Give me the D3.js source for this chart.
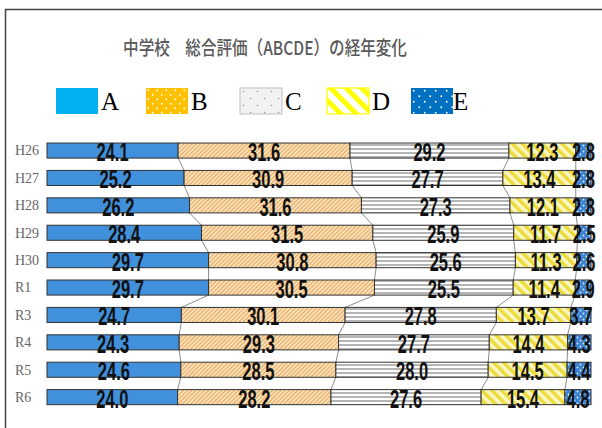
<!DOCTYPE html>
<html>
<head>
<meta charset="utf-8">
<script src="https://cdn.jsdelivr.net/npm/d3@7"></script>
<style>
  body { margin: 0; background: #fff; }
  svg { display: block; }
</style>
</head>
<body>
<div id="chart"></div>
<script>
'use strict';

var categories = ['H26', 'H27', 'H28', 'H29', 'H30', 'R1', 'R3', 'R4', 'R5', 'R6'];
var seriesNames = ['A', 'B', 'C', 'D', 'E'];
var valuesA = [24.1, 25.2, 26.2, 28.4, 29.7, 29.7, 24.7, 24.3, 24.6, 24.0];
var valuesB = [31.6, 30.9, 31.6, 31.5, 30.8, 30.5, 30.1, 29.3, 28.5, 28.2];
var valuesC = [29.2, 27.7, 27.3, 25.9, 25.6, 25.5, 27.8, 27.7, 28.0, 27.6];
var valuesD = [12.3, 13.4, 12.1, 11.7, 11.3, 11.4, 13.7, 14.4, 14.5, 15.4];
var valuesE = [2.8, 2.8, 2.8, 2.5, 2.6, 2.9, 3.7, 4.3, 4.4, 4.8];
var title = '中学校\u3000総合評価（ABCDE）の経年変化';

var width = 602, height = 428;

var rows = categories.map(function(c, i) {
  return { cat: c, A: valuesA[i], B: valuesB[i], C: valuesC[i], D: valuesD[i], E: valuesE[i] };
});
var stacked = d3.stack().keys(seriesNames)(rows);

var svg = d3.select('#chart').append('svg')
  .attr('width', width)
  .attr('height', height);

var defs = svg.append('defs');

// bar fills
function stripes(id, size, angle, bg, fg, lw) {
  var p = defs.append('pattern').attr('id', id)
    .attr('patternUnits', 'userSpaceOnUse')
    .attr('width', size).attr('height', size)
    .attr('patternTransform', 'rotate(' + angle + ')');
  p.append('rect').attr('width', size).attr('height', size).attr('fill', bg);
  p.append('rect').attr('width', lw).attr('height', size).attr('fill', fg);
}
function dots(id, size, bg, fg, r) {
  var p = defs.append('pattern').attr('id', id)
    .attr('patternUnits', 'userSpaceOnUse')
    .attr('width', size).attr('height', size);
  p.append('rect').attr('width', size).attr('height', size).attr('fill', bg);
  p.append('circle').attr('cx', size / 4).attr('cy', size / 4).attr('r', r).attr('fill', fg);
  p.append('circle').attr('cx', size * 3 / 4).attr('cy', size * 3 / 4).attr('r', r).attr('fill', fg);
}
stripes('barB', 3, 45, '#fbe6c6', '#e8a858', 1.2);
stripes('barC', 4, 90, '#ffffff', '#b5b5b5', 2);
stripes('barD', 7, -45, '#fbf6c8', '#ecdc3a', 3.5);
dots('barE', 6, '#3c82cf', '#d8e8ff', 0.9);
dots('legB', 9, '#ffc000', '#ffffff', 0.9);
dots('legC', 14, '#f2f2f2', '#999999', 0.8);
stripes('legD', 11, -45, '#ffffff', '#ffff00', 5);
dots('legE', 11, '#0070c0', '#ffffff', 0.9);

var barFill = { A: '#4190dc', B: 'url(#barB)', C: 'url(#barC)', D: 'url(#barD)', E: 'url(#barE)' };
var legFill = { A: '#00b0f0', B: 'url(#legB)', C: 'url(#legC)', D: 'url(#legD)', E: 'url(#legE)' };
var legStroke = { A: 'none', B: 'none', C: '#c8c8c8', D: '#ffff00', E: 'none' };

// frame
svg.append('rect')
  .attr('x', 5.5).attr('y', 9.5)
  .attr('width', 610).attr('height', 440)
  .attr('fill', 'none')
  .attr('stroke', '#444')
  .attr('stroke-width', 1.5);

// title
svg.append('text')
  .attr('transform', 'translate(265,55) scale(0.82,1)')
  .attr('text-anchor', 'middle')
  .attr('font-family', '"Noto Sans CJK JP"')
  .attr('font-size', 19)
  .attr('font-weight', 500)
  .attr('fill', '#595959')
  .text(title);

// legend
var legendX = [56, 146, 240, 327, 411];
var legend = svg.append('g').selectAll('g')
  .data(seriesNames).enter().append('g')
  .attr('transform', function(d, i) { return 'translate(' + legendX[i] + ',88)'; });
legend.append('rect')
  .attr('width', 42).attr('height', 26)
  .attr('fill', function(d) { return legFill[d]; })
  .attr('stroke', function(d) { return legStroke[d]; })
  .attr('stroke-width', 1.2);
legend.append('text')
  .attr('x', function(d) { return d === 'E' ? 42 : 45; })
  .attr('y', 22)
  .attr('font-family', '"Liberation Serif"')
  .attr('font-size', 25)
  .attr('fill', '#000')
  .text(function(d) { return d; });

// scales
var x = d3.scaleLinear().domain([0, 100]).range([47, 591]);
var y = d3.scaleBand().domain(categories).range([130.7, 417]).padding(0.45);
var bw = y.bandwidth();

// category labels
svg.append('g').selectAll('text')
  .data(categories).enter().append('text')
  .attr('x', 15)
  .attr('y', function(d) { return y(d) + bw / 2; })
  .attr('dy', '0.35em')
  .attr('font-family', '"Liberation Serif"')
  .attr('font-size', 14)
  .attr('fill', '#666')
  .text(function(d) { return d; });

// series lines between bars
var lines = svg.append('g')
  .attr('stroke', '#6f6f6f')
  .attr('stroke-width', 0.8)
  .attr('fill', 'none');
stacked.slice(0, 4).forEach(function(layer) {
  for (var i = 0; i < layer.length - 1; i++) {
    lines.append('line')
      .attr('x1', x(layer[i][1])).attr('y1', y(categories[i]) + bw)
      .attr('x2', x(layer[i + 1][1])).attr('y2', y(categories[i + 1]));
  }
});

// bars
var layers = svg.append('g').selectAll('g')
  .data(stacked).enter().append('g')
  .attr('fill', function(d) { return barFill[d.key]; });
layers.selectAll('rect')
  .data(function(d) { return d; }).enter().append('rect')
  .attr('x', function(d) { return x(d[0]); })
  .attr('y', function(d) { return y(d.data.cat); })
  .attr('width', function(d) { return x(d[1]) - x(d[0]); })
  .attr('height', bw)
  .attr('stroke', '#333')
  .attr('stroke-width', 1);

// value labels
var labels = svg.append('g');
stacked.forEach(function(layer) {
  layer.forEach(function(d) {
    var cx = (x(d[0]) + x(d[1])) / 2;
    var cy = y(d.data.cat) + bw / 2 + 1.5;
    labels.append('text')
      .attr('transform', 'translate(' + cx + ',' + cy + ') scale(0.66,1)')
      .attr('text-anchor', 'middle')
      .attr('dy', '0.36em')
      .attr('font-family', '"Liberation Sans"')
      .attr('font-weight', 'bold')
      .attr('font-size', 25)
      .attr('fill', '#111')
      .text(d3.format('.1f')(d[1] - d[0]));
  });
});
</script>
</body>
</html>
